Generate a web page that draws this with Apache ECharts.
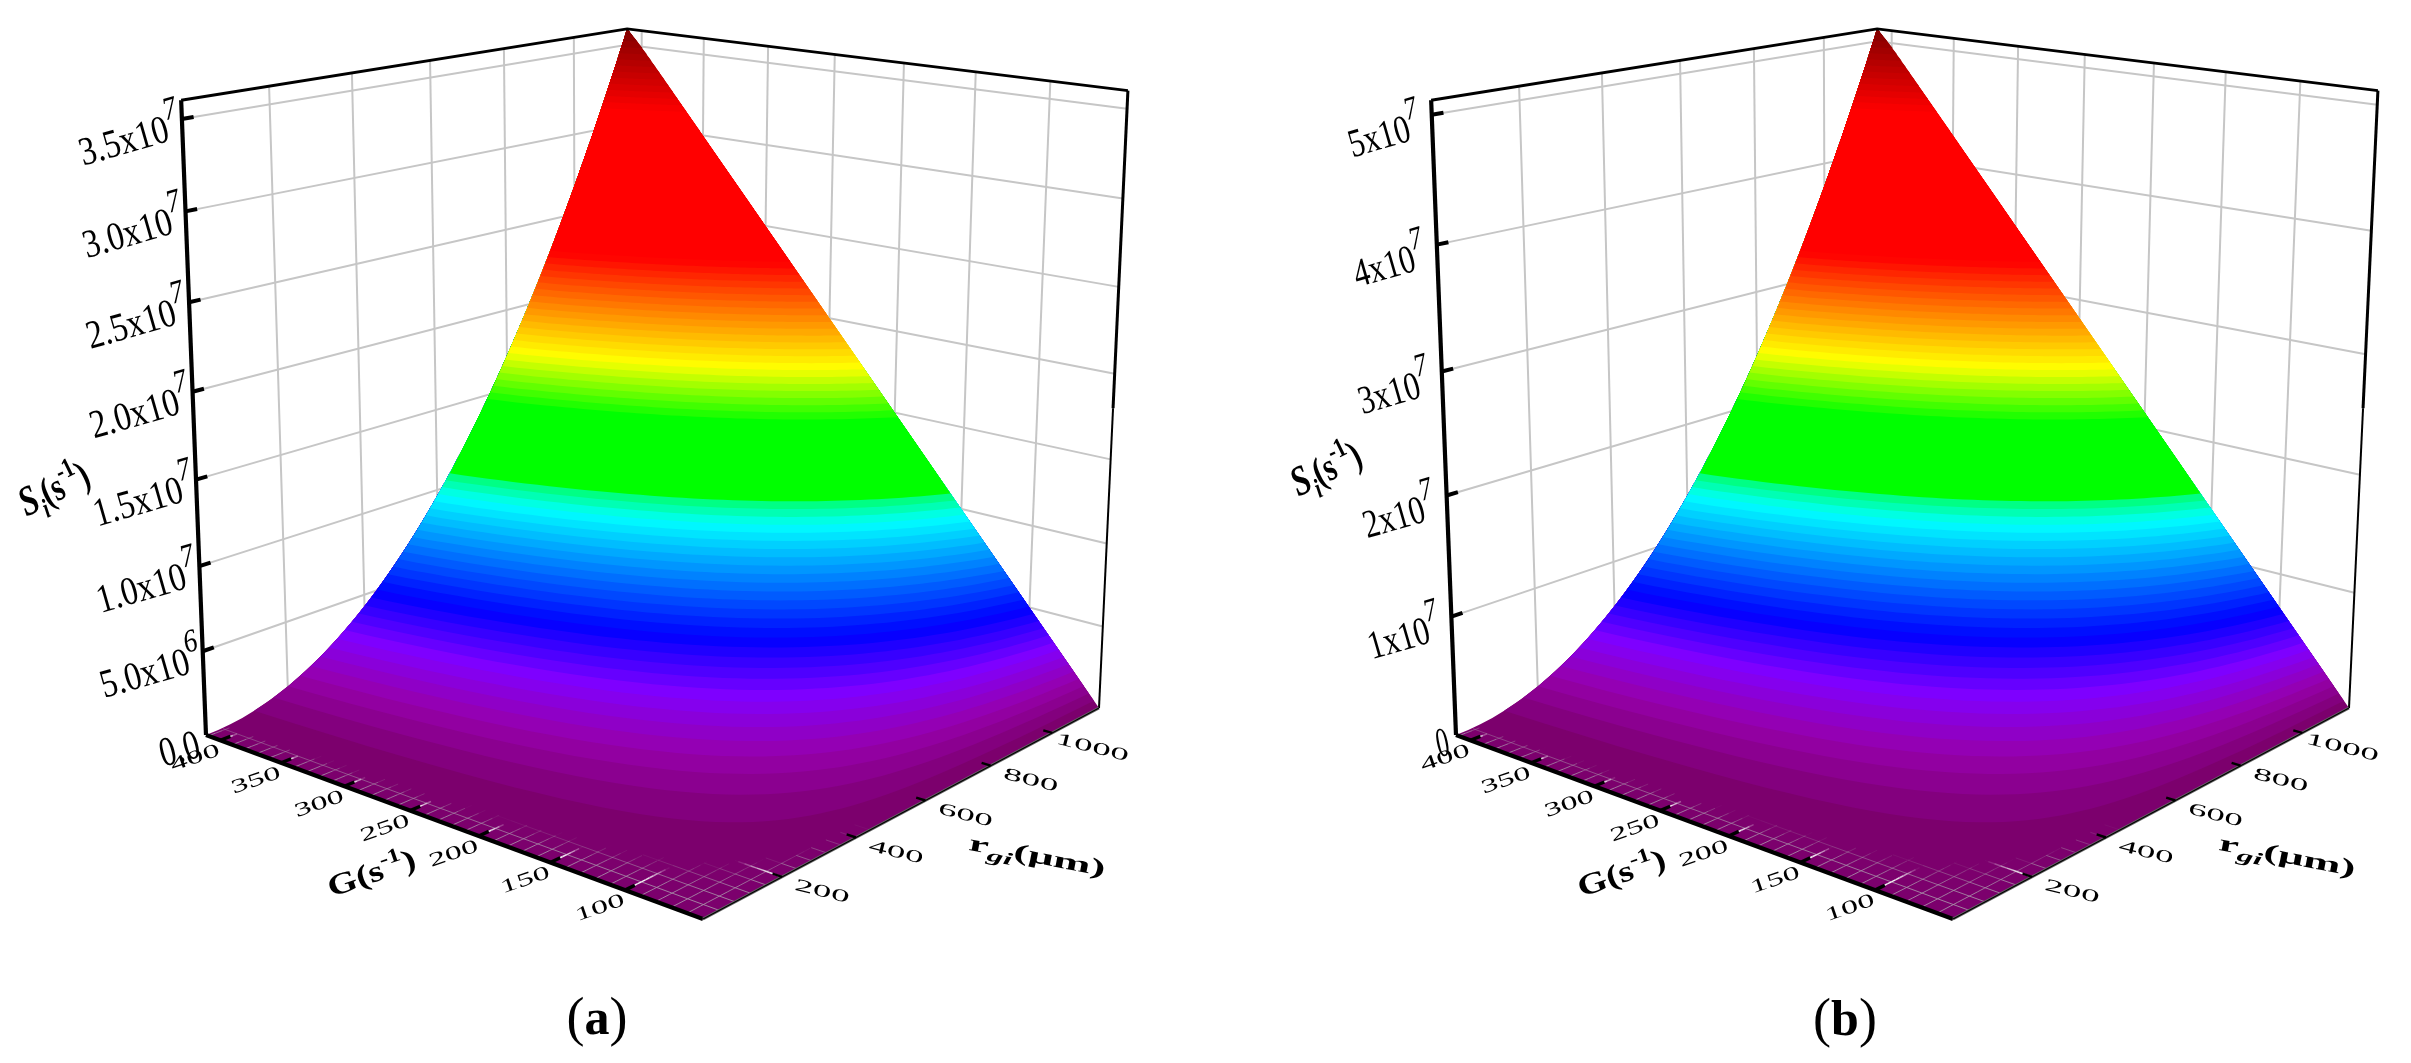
<!DOCTYPE html>
<html><head><meta charset="utf-8">
<style>html,body{margin:0;padding:0;background:#fff}#c{width:2411px;height:1063px}</style>
<script src="https://cdn.jsdelivr.net/npm/echarts@6/dist/echarts.min.js"></script>
</head><body><div id="c"></div>
<script>
// ---- data ----
const G_VALUES = [50, 100, 150, 200, 250, 300, 350, 400, 412];
const R_VALUES = [0, 100, 200, 300, 400, 500, 600, 700, 800, 900, 1000, 1100, 1160];
// S_i in units of 10^6 s^-1; rows follow G_VALUES, columns follow R_VALUES
const S_A = [
 [0,0,0,0,0,0,0,0,0,0,0,0,0],
 [0,.037,.149,.335,.595,.930,1.339,1.822,2.380,3.012,3.720,4.499,5.00],
 [0,.074,.297,.669,1.19,1.86,2.68,3.64,4.76,6.02,7.44,9.00,10.0],
 [0,.112,.446,1.00,1.78,2.79,4.02,5.47,7.14,9.04,11.16,13.50,15.0],
 [0,.149,.595,1.34,2.38,3.72,5.35,7.29,9.52,12.05,14.88,18.00,20.0],
 [0,.186,.743,1.67,2.97,4.64,6.68,9.10,11.88,15.04,18.57,22.46,25.0],
 [0,.223,.891,2.01,3.57,5.57,8.02,10.92,14.26,18.05,22.29,26.96,30.0],
 [0,.260,1.04,2.34,4.16,6.50,9.36,12.74,16.64,21.06,26.01,31.46,35.0],
 [0,.268,1.07,2.41,4.28,6.69,9.63,13.11,17.12,21.67,26.76,32.37,36.0]
];
const S_B = [
 [0,0,0,0,0,0,0,0,0,0,0,0,0],
 [0,.053,.211,.475,.845,1.32,1.90,2.59,3.38,4.28,5.28,6.39,7.10],
 [0,.106,.422,.950,1.69,2.64,3.80,5.17,6.76,8.55,10.56,12.77,14.2],
 [0,.158,.633,1.43,2.54,3.96,5.70,7.76,10.13,12.83,15.84,19.16,21.3],
 [0,.211,.845,1.90,3.38,5.28,7.60,10.35,13.51,17.10,21.12,25.55,28.4],
 [0,.264,1.05,2.37,4.22,6.59,9.49,12.92,16.86,21.35,26.36,31.89,35.5],
 [0,.317,1.27,2.85,5.06,7.91,11.39,15.50,20.24,25.62,31.64,38.28,42.6],
 [0,.369,1.48,3.32,5.91,9.22,13.29,18.09,23.62,29.90,36.92,44.66,49.7],
 [0,.380,1.52,3.42,6.08,9.49,13.67,18.61,24.30,30.76,37.98,45.95,51.1]
];
const G_TICKS = [400, 350, 300, 250, 200, 150, 100];
const R_TICKS = [200, 400, 600, 800, 1000];
const Z_TICKS_A = [0, 5, 10, 15, 20, 25, 30, 35];
const Z_BASE_A = ['0.0','5.0x10','1.0x10','1.5x10','2.0x10','2.5x10','3.0x10','3.5x10'];
const Z_EXP_A = ['','6','7','7','7','7','7','7'];
const Z_TICKS_B = [0, 10, 20, 30, 40, 50];
const Z_BASE_B = ['0','1x10','2x10','3x10','4x10','5x10'];
const Z_EXP_B = ['','7','7','7','7','7'];
const Z_MAX_A = 36, Z_MAX_B = 51.1;
const CAPTIONS = ['a', 'b'];
// rainbow palette: fraction of the z range -> colour
const PALETTE = [[0,120,0,100],[.04,150,0,170],[.084,128,0,255],[.138,0,0,255],[.269,0,255,255],
 [.30,0,255,110],[.301,0,255,0],[.405,0,255,0],[.483,255,255,0],[.638,255,0,0],[.868,255,0,0],[1,128,0,0]];
const LEVELS = 100;

// ---- camera of the 3D box ----
const FONT = 'Liberation Serif';
const CAM = {O:[703,919], L:[206,735], R:[1099,708], a:1.162, b:1.1957, c:-0.067, W:[-41,-744.3]};
const Gmin = G_VALUES[0], Gmax = G_VALUES[G_VALUES.length-1];
const Rmin = R_VALUES[0], Rmax = R_VALUES[R_VALUES.length-1];
function project(G, r, z, zmax, dx){
  const u=(G-Gmin)/(Gmax-Gmin), v=(r-Rmin)/(Rmax-Rmin), w=z/zmax;
  const den=1+(CAM.a-1)*u+(CAM.b-1)*v+CAM.c*w;
  const f=i=>(CAM.O[i]+u*(CAM.L[i]*CAM.a-CAM.O[i])+v*(CAM.R[i]*CAM.b-CAM.O[i])+w*CAM.W[i])/den;
  return [f(0)+dx, f(1)];
}
function rowAt(row, r){
  let j=1, n=R_VALUES.length;
  while(j<n-2 && r>R_VALUES[j]+ (R_VALUES[j+1]-R_VALUES[j])/2) j++;
  const x0=R_VALUES[j-1],x1=R_VALUES[j],x2=R_VALUES[j+1];
  return row[j-1]*(r-x1)*(r-x2)/((x0-x1)*(x0-x2))+row[j]*(r-x0)*(r-x2)/((x1-x0)*(x1-x2))+row[j+1]*(r-x0)*(r-x1)/((x2-x0)*(x2-x1));
}
function surf(T, G, r){
  let i=0; while(i<G_VALUES.length-2 && G>G_VALUES[i+1]) i++;
  const t=(G-G_VALUES[i])/(G_VALUES[i+1]-G_VALUES[i]);
  return rowAt(T[i],r)*(1-t)+rowAt(T[i+1],r)*t;
}
function bisect(fn, lo, hi, target){
  for(let k=0;k<26;k++){const m=(lo+hi)/2; if(fn(m)<target) lo=m; else hi=m;}
  return (lo+hi)/2;
}
function colorAt(f){
  let i=0; while(i<PALETTE.length-2 && f>PALETTE[i+1][0]) i++;
  const a=PALETTE[i], b=PALETTE[i+1], t=Math.min(1,Math.max(0,(f-a[0])/(b[0]-a[0])));
  return 'rgb('+[1,2,3].map(k=>Math.round(a[k]+(b[k]-a[k])*t)).join(',')+')';
}
function buildPanel(T, zmax, zTicks, zBase, zExp, dx, opt){
  const cmds=[], P=(G,r,z)=>project(G,r,z,zmax,dx);
  const line=(pts,stroke,w,op)=>cmds.push({type:'polyline',pts,style:{stroke,lineWidth:w,fill:null,opacity:op==null?1:op}});
  const GRID='#c6c6c6';
  // walls
  zTicks.forEach(z=>{ if(z>0) line([P(Gmax,Rmin,z),P(Gmax,Rmax,z),P(Gmin,Rmax,z)],GRID,2); });
  R_TICKS.forEach(r=>line([P(Gmax,r,0),P(Gmax,r,zmax)],GRID,2));
  G_TICKS.forEach(g=>line([P(g,Rmax,0),P(g,Rmax,zmax)],GRID,2));
  // surface: base + nested level regions
  const rs=[]; for(let i=0;i<=40;i++) rs.push(Rmin+(Rmax-Rmin)*i/40);
  cmds.push({type:'polygon',pts:[P(Gmin,Rmin,0),P(Gmax,Rmin,0)].concat(rs.map(r=>P(Gmax,r,surf(T,Gmax,r))),[P(Gmin,Rmax,0)]),
    style:{fill:colorAt(.5/LEVELS)}});
  for(let k=1;k<LEVELS;k++){
    const L=zmax*k/LEVELS, pts=[];
    const G0=bisect(g=>surf(T,g,Rmax),Gmin,Gmax,L), u0=Math.max((G0-Gmin)/(Gmax-Gmin),1e-4);
    const n=50; let rEnd=Rmax;
    for(let i=0;i<=n;i++){
      const g=Gmin+(Gmax-Gmin)*u0*Math.pow(1/u0,i/n);
      const r=bisect(x=>surf(T,g,x),Rmin,Rmax,L);
      pts.push(P(g,r,L)); rEnd=r;
    }
    for(let i=1;i<=24;i++){ const r=rEnd+(Rmax-rEnd)*i/24; pts.push(P(Gmax,r,surf(T,Gmax,r))); }
    pts.push(P(G0,Rmax,L));
    cmds.push({type:'polygon',pts,style:{fill:colorAt((k+.5)/LEVELS)}});
  }
  // floor grid showing through where the surface lies on the floor
  const fade=(pts3,colour,w,eps,gain)=>{
    for(let i=0;i<pts3.length-1;i++){
      const a=pts3[i], b=pts3[i+1], f=surf(T,(a[0]+b[0])/2,(a[1]+b[1])/2)/zmax;
      if(f<eps) line([P(a[0],a[1],0),P(b[0],b[1],0)],colour,w,Math.min(1,gain*(1-f/eps)));
    }
  };
  for(let g=60;g<Gmax;g+=10){
    const s=[]; for(let i=0;i<=30;i++) s.push([g,Rmin+500*i/30]);
    if(g%50) fade(s,'#a890a8',1,.0022,.9);
  }
  for(let r=40;r<Rmax;r+=40){
    const s=[]; for(let i=0;i<=36;i++) s.push([Gmin+(Gmax-Gmin)*i/36,r]);
    fade(s,'#a890a8',1,.0022,.9);
  }
  G_TICKS.forEach(g=>{ const s=[]; for(let i=0;i<=30;i++) s.push([g,Rmin+300*i/30]); fade(s,'#f4f0f4',1.5,.0012,1.2); });
  { const s=[]; for(let i=0;i<=30;i++) s.push([Gmin+120*i/30,R_TICKS[0]]); fade(s,'#f4f0f4',1.5,.0024,1.2); }
  // frame
  line([P(Gmax,Rmin,0),P(Gmax,Rmin,zmax)],'#000',4.2);
  line([P(Gmax,Rmin,zmax),P(Gmax,Rmax,zmax),P(Gmin,Rmax,zmax)],'#000',2.8);
  line([P(Gmin,Rmax,zmax),P(Gmin,Rmax,zmax*.5)],'#000',3);
  line([P(Gmin,Rmax,zmax*.5),P(Gmin,Rmax,0)],'#000',2);
  line([P(Gmax,Rmin,0),P(Gmin,Rmin,0)],'#000',4.2);
  line([P(Gmin,Rmin,0),P(Gmin,Rmax,0)],'#666',2.8);
  line([P(Gmin,Rmin,0),P(Gmin,Rmax,0)],'#000',1.2);
  // ticks
  zTicks.forEach(z=>{ if(z>0) line([P(Gmax,Rmin,z),P(Gmax,Rmin+26,z)],'#000',4); });
  G_TICKS.forEach(g=>line([P(g,Rmin,0),P(g,Rmin+24,0)],'#000',3.4));
  R_TICKS.forEach(r=>line([P(Gmin,r,0),P(Gmin+6,r,0)],'#000',2.4));
  // texts
  const text=(p,rot,sx,sy,style)=>cmds.push({type:'text',p,rot:rot*Math.PI/180,sx,sy,style:Object.assign({x:0,y:0,align:'center',verticalAlign:'middle',fontFamily:FONT,fill:'#000'},style)});
  zTicks.forEach((z,i)=>{
    const t=P(Gmax,Rmin,z);
    if(z===0){ text(opt.zero,opt.zeroRot,opt.zeroSx,1.15,{text:zBase[i],fontSize:36}); return; }
    text([t[0]+opt.zdx,t[1]+15],16,opt.zsx,1.25,{text:'{b|'+zBase[i]+'}{s|'+zExp[i]+'}',
      rich:{b:{fontSize:32,fontFamily:FONT,lineHeight:44,verticalAlign:'bottom',fill:'#000'},
            s:{fontSize:26,fontFamily:FONT,fontStyle:'italic',lineHeight:44,verticalAlign:'top',fill:'#000'}}});
  });
  G_TICKS.forEach(g=>{ const t=P(g,Rmin,0); text([t[0]-25,t[1]+18],19,1.42,.8,{text:String(g),fontSize:24}); });
  R_TICKS.forEach(r=>{ const t=P(Gmin,r,0); text([t[0]+40,t[1]+15],-14,1.55,.72,{text:String(r),fontSize:24}); });
  const rb={fontFamily:FONT,fontWeight:'bold',fill:'#000'};
  text([opt.si[0],opt.si[1]],26,.96,1.25,{text:'{i|S}{j|i}{b|(s}{u|-1}{b|)}',
    rich:{i:Object.assign({},rb,{fontSize:34,fontStyle:'italic',lineHeight:44,verticalAlign:'middle'}),
          j:Object.assign({},rb,{fontSize:22,fontStyle:'italic',lineHeight:44,verticalAlign:'bottom'}),
          b:Object.assign({},rb,{fontSize:32,lineHeight:44,verticalAlign:'middle'}),
          u:Object.assign({},rb,{fontSize:22,lineHeight:44,verticalAlign:'top'})}});
  text([372+dx,875],19,1.28,1,{text:'{b|G(s}{u|-1}{b|)}',
    rich:{b:Object.assign({},rb,{fontSize:30,lineHeight:40,verticalAlign:'middle'}),
          u:Object.assign({},rb,{fontSize:20,lineHeight:40,verticalAlign:'top'})}});
  text([1037+dx,857],-11,1.5,.78,{text:'{b|r}{j|gi}{b|(μm)}',
    rich:{b:Object.assign({},rb,{fontSize:30,lineHeight:44,verticalAlign:'middle'}),
          j:Object.assign({},rb,{fontSize:22,fontStyle:'italic',lineHeight:44,verticalAlign:'bottom'})}});
  text([opt.cap[0],opt.cap[1]],0,1,1,{text:'{p|(}{c|'+opt.label+'}{p|)}',
    rich:{p:{fontSize:54,fontFamily:FONT,fill:'#000'},c:{fontSize:50,fontFamily:FONT,fontWeight:'bold',fill:'#000'}}});
  return cmds;
}
const DX=1250;
const cmdsA=buildPanel(S_A,Z_MAX_A,Z_TICKS_A,Z_BASE_A,Z_EXP_A,0,{zero:[180,751],zeroRot:15,zeroSx:.9,zdx:-53,zsx:1.04,si:[55,491],cap:[597,1021],label:CAPTIONS[0]});
const cmdsB=buildPanel(S_B,Z_MAX_B,Z_TICKS_B,Z_BASE_B,Z_EXP_B,DX,{zero:[1443,745],zeroRot:12,zeroSx:.7,zdx:-48,zsx:.98,si:[1327,471],cap:[1845,1022],label:CAPTIONS[1]});
function seriesOf(cmds){
  return {type:'custom',coordinateSystem:'cartesian2d',clip:false,silent:true,animation:false,progressive:0,
    data:cmds.map((c,i)=>[0,0,i]),encode:{x:0,y:1},
    renderItem:function(params,api){
      const c=cmds[params.dataIndex];
      if(c.type==='text'){
        const p=api.coord(c.p);
        return {type:'text',x:p[0],y:p[1],rotation:c.rot,scaleX:c.sx,scaleY:c.sy,style:c.style};
      }
      return {type:c.type,shape:{points:c.pts.map(q=>api.coord(q))},style:c.style};
    }};
}
const chart=echarts.init(document.getElementById('c'),null,{renderer:'canvas'});
chart.setOption({
  animation:false,backgroundColor:'#fff',tooltip:{show:false},
  grid:{left:0,right:0,top:0,bottom:0},
  xAxis:{type:'value',min:0,max:2411,show:false},
  yAxis:{type:'value',min:0,max:1063,inverse:true,show:false},
  series:[seriesOf(cmdsA),seriesOf(cmdsB)]
});
</script></body></html>
